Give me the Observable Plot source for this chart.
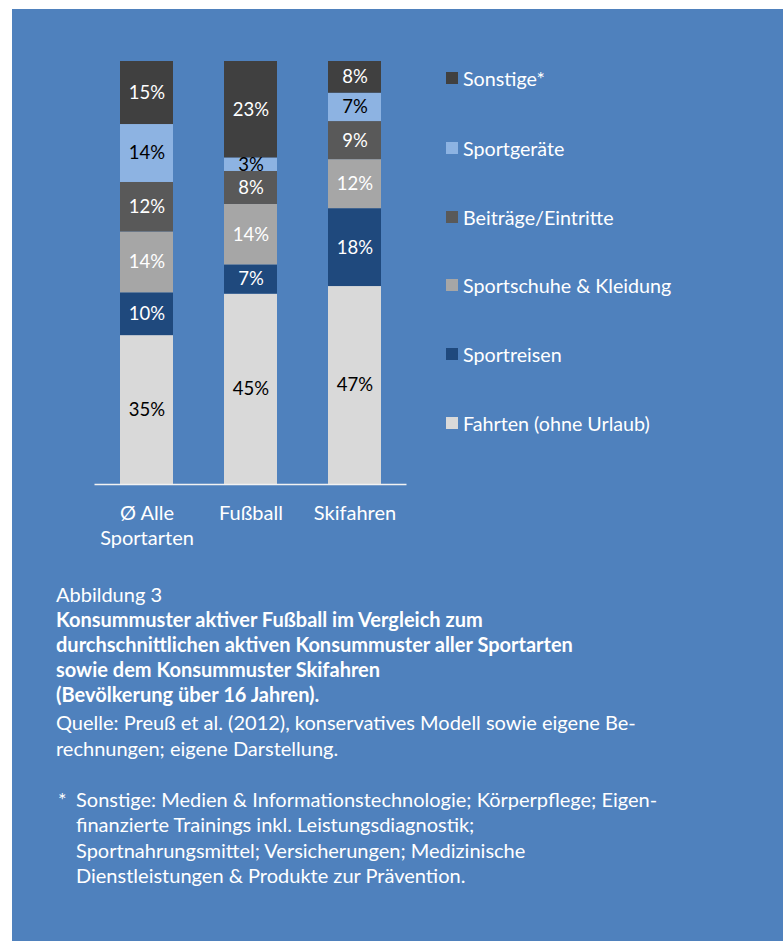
<!DOCTYPE html>
<html>
<head>
<meta charset="utf-8">
<script src="https://cdn.jsdelivr.net/npm/d3@7"></script>
<script src="https://cdn.jsdelivr.net/npm/@observablehq/plot@0.6"></script>
<style>
  html, body { margin: 0; padding: 0; background: #ffffff; }
  body { width: 783px; height: 941px; position: relative; overflow: hidden; font-family: Lato, "Open Sans", sans-serif; }
  #panel { position: absolute; left: 12px; top: 9px; width: 771px; height: 932px; background: #4f81bd; }
  #chart { position: absolute; left: 0; top: 0; }
  #legend { position: absolute; left: 0; top: 0; }
  .li { position: absolute; left: 446px; display: flex; align-items: center; color: #ffffff; font-size: 19.7px; white-space: nowrap; }
  .sw { width: 12px; height: 12px; margin-right: 5px; flex: none; }
  #caption { position: absolute; left: 56px; top: 582px; color: #ffffff; font-size: 20px; line-height: 25px; white-space: nowrap; }
  #caption .b { font-weight: 700; }
  #caption .gap { margin-top: 3px; }
  #caption .gap2 { margin-top: 1px; }
  #note { position: absolute; left: 58px; top: 787px; color: #ffffff; font-size: 20px; line-height: 25.4px; white-space: nowrap; }
  #note .star { position: absolute; left: 0; top: 0; }
  #note .txt { margin-left: 18px; }
</style>
</head>
<body>
<div id="panel"></div>
<div id="chart"></div>
<div id="legend"></div>
<div id="caption"></div>
<div id="note"></div>
<script>
// Categories (x axis)
const categories = ["Ø Alle\nSportarten", "Fußball", "Skifahren"];
// Series, bottom to top of the stack
const series = ["Fahrten (ohne Urlaub)", "Sportreisen", "Sportschuhe & Kleidung", "Beiträge/Eintritte", "Sportgeräte", "Sonstige*"];
const colors = ["#d9d9d9", "#1f497d", "#a6a6a6", "#595959", "#8db3e2", "#404040"];
const labelColors = ["#000000", "#ffffff", "#ffffff", "#ffffff", "#000000", "#ffffff"];
// Shares (%) per category, in series order (bottom to top)
const alleSportarten = [35.2, 10.1, 14.4, 11.7, 13.7, 14.9];
const fussball = [45.0, 6.9, 14.3, 7.8, 3.2, 22.8];
const skifahren = [46.8, 18.4, 11.6, 9.0, 6.7, 7.5];
// Legend order (top to bottom)
const legendOrder = ["Sonstige*", "Sportgeräte", "Beiträge/Eintritte", "Sportschuhe & Kleidung", "Sportreisen", "Fahrten (ohne Urlaub)"];

const captionLines = [
  {t: "Abbildung 3", c: ""},
  {t: "Konsummuster aktiver Fußball im Vergleich zum", c: "b"},
  {t: "durchschnittlichen aktiven Konsummuster aller Sportarten", c: "b"},
  {t: "sowie dem Konsummuster Skifahren", c: "b"},
  {t: "(Bevölkerung über 16 Jahren).", c: "b"},
  {t: "Quelle: Preuß et al. (2012), konservatives Modell sowie eigene Be-", c: "gap"},
  {t: "rechnungen; eigene Darstellung.", c: "gap2"}
];
const noteLines = [
  "Sonstige: Medien & Informationstechnologie; Körperpflege; Eigen-",
  "finanzierte Trainings inkl. Leistungsdiagnostik;",
  "Sportnahrungsmittel; Versicherungen; Medizinische",
  "Dienstleistungen & Produkte zur Prävention."
];

const valuesByCat = [alleSportarten, fussball, skifahren];
const table = [];
series.forEach((s, si) => {
  categories.forEach((c, ci) => {
    table.push({category: c, series: s, value: valuesByCat[ci][si], labelColor: labelColors[si]});
  });
});

const plot = Plot.plot({
  width: 783,
  height: 560,
  marginLeft: 94.5,
  marginRight: 376.5,
  marginTop: 61,
  marginBottom: 76,
  style: {background: "transparent", color: "#ffffff", fontFamily: "Lato, 'Open Sans', sans-serif", fontSize: "20px", overflow: "visible"},
  x: {domain: categories, paddingInner: 0.49, paddingOuter: 0.245, label: null},
  y: {domain: [0, 100], axis: null},
  color: {domain: series, range: colors},
  marks: [
    Plot.barY(table, Plot.stackY({x: "category", y: "value", fill: "series", order: null})),
    Plot.text(table, Plot.stackY({x: "category", y: "value", order: null, text: d => Math.round(d.value) + "%", fill: "labelColor", fontSize: 18.5})),
    Plot.ruleY([0], {stroke: "#f2f2f2", strokeWidth: 1.5}),
    Plot.axisX({tickSize: 0, tickPadding: 18, lineAnchor: "top", fontSize: 20, lineHeight: 1.25, fill: "#ffffff", label: null})
  ]
});
document.getElementById("chart").appendChild(plot);

// Legend (HTML, positioned to the right of the bars)
const legendY = [78, 148, 217, 285, 354, 423];
const legend = document.getElementById("legend");
legendOrder.forEach((s, i) => {
  const item = document.createElement("div");
  item.className = "li";
  item.style.top = (legendY[i] - 12) + "px";
  item.style.height = "24px";
  const sw = document.createElement("span");
  sw.className = "sw";
  sw.style.background = colors[series.indexOf(s)];
  const tx = document.createElement("span");
  tx.textContent = s;
  item.appendChild(sw);
  item.appendChild(tx);
  legend.appendChild(item);
});

const cap = document.getElementById("caption");
cap.innerHTML = captionLines.map(l => '<div class="' + l.c + '">' + l.t + "</div>").join("");
const note = document.getElementById("note");
note.innerHTML = '<span class="star">*</span><div class="txt">' + noteLines.join("<br>") + "</div>";
</script>
</body>
</html>
